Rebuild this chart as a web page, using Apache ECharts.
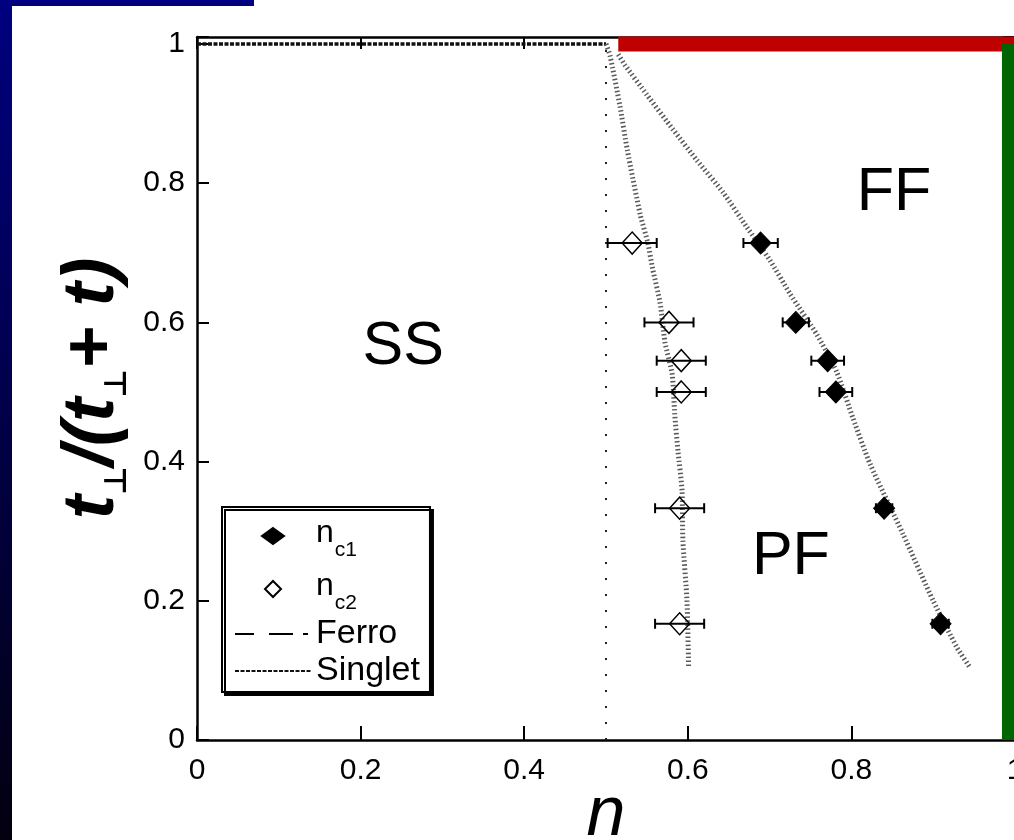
<!DOCTYPE html>
<html>
<head>
<meta charset="utf-8">
<script src="https://cdn.jsdelivr.net/npm/echarts@6/dist/echarts.min.js"></script>
<style>
  html, body { margin: 0; padding: 0; background: #fff; }
  #chart { width: 1014px; height: 840px; }
</style>
</head>
<body>
<div id="chart"></div>
<script>
// Hopping ratio t_perp/(t_perp + t) at which the critical densities were measured
const ratio = [0.714, 0.6, 0.545, 0.5, 0.333, 0.167];
// First critical density n_c1 (filled diamonds) with its horizontal error
const nc1 = [0.689, 0.732, 0.771, 0.781, 0.840, 0.909];
const nc1Err = [0.021, 0.016, 0.02, 0.02, 0.01, 0.01];
// Second critical density n_c2 (open diamonds) with its horizontal error
const nc2 = [0.532, 0.577, 0.592, 0.592, 0.590, 0.590];
const nc2Err = [0.03, 0.03, 0.03, 0.03, 0.03, 0.03];

// Phase boundary next to n_c2 (SS / PF)
const curveC2N = [0.500, 0.505, 0.517, 0.526, 0.542, 0.551, 0.557, 0.566, 0.572, 0.581, 0.584, 0.588, 0.593, 0.594, 0.599, 0.601];
const curveC2T = [1.000, 0.983, 0.911, 0.848, 0.754, 0.715, 0.677, 0.629, 0.572, 0.525, 0.468, 0.415, 0.358, 0.286, 0.200, 0.104];
// Phase boundary next to n_c1 (PF / FF)
const curveC1N = [0.515, 0.523, 0.550, 0.582, 0.611, 0.643, 0.672, 0.700, 0.725, 0.758, 0.782, 0.802, 0.823, 0.863, 0.900, 0.929, 0.945];
const curveC1T = [0.985, 0.970, 0.927, 0.877, 0.833, 0.787, 0.737, 0.690, 0.641, 0.582, 0.529, 0.462, 0.396, 0.296, 0.200, 0.133, 0.104];

// Singlet line along the top edge and the n = 1/2 boundary
const singletN = [0, 0.5];
const singletT = [1, 1];
const halfN = [0.5, 0.5];
const halfT = [0, 1];
// Ferro line along the top edge
const ferroN = [0.52, 1];
const ferroT = [1, 1];
// Highlight strokes: red along t_perp/(t_perp+t) = 1, green along n = 1
const redN = [0.515, 1];
const redT = [1, 1];
const greenN = [0.992, 0.992];
const greenT = [0, 1];

// Phase names and where they sit
const phaseNames = ['SS', 'FF', 'PF'];
const phaseN = [0.252, 0.852, 0.726];
const phaseT = [0.565, 0.785, 0.262];

// Legend entries
const legendText = {
  nc1: '{n|n}{s|c1}',
  nc2: '{n|n}{s|c2}',
  Ferro: 'Ferro',
  Singlet: 'Singlet'
};

const FONT = 'Liberation Sans, Arial, sans-serif';
const zip = (a, b) => a.map((v, i) => [v, b[i]]);

const chart = echarts.init(document.getElementById('chart'), null, { renderer: 'canvas' });

function errorBars(params, api) {
  const x = api.value(0), y = api.value(1), e = api.value(2);
  const p1 = api.coord([x - e, y]);
  const p2 = api.coord([x + e, y]);
  const cap = 5;
  const st = { stroke: '#000', lineWidth: 2 };
  return {
    type: 'group',
    children: [
      { type: 'line', shape: { x1: p1[0], y1: p1[1], x2: p2[0], y2: p2[1] }, style: st },
      { type: 'line', shape: { x1: p1[0], y1: p1[1] - cap, x2: p1[0], y2: p1[1] + cap }, style: st },
      { type: 'line', shape: { x1: p2[0], y1: p2[1] - cap, x2: p2[0], y2: p2[1] + cap }, style: st }
    ]
  };
}

const tickFmt = v => (Math.abs(v * 5 - Math.round(v * 5)) < 1e-6 ? String(+v.toFixed(1)) : '');
const noSymbol = { color: 'rgba(0,0,0,0)', borderWidth: 0 };
// Diamond legend icons (paths keep their aspect inside the icon box)
const wideDiamond = 'path://M11,0L22,8L11,16L0,8Z';
const squareDiamond = 'path://M8,0L16,8L8,16L0,8Z';

const option = {
  backgroundColor: '#fff',
  animation: false,
  graphic: [
    {
      type: 'rect', left: 0, top: 0, z: 100,
      shape: { width: 12, height: 840 },
      style: {
        fill: new echarts.graphic.LinearGradient(0, 0, 0, 1, [
          { offset: 0, color: '#000080' },
          { offset: 1, color: '#03000f' }
        ])
      }
    },
    {
      type: 'rect', left: 0, top: 0, z: 100,
      shape: { width: 254, height: 6 },
      style: { fill: '#000080' }
    }
  ],
  grid: { left: 197, top: 37, width: 818, height: 703, containLabel: false, outerBoundsMode: 'none' },
  legend: {
    orient: 'vertical',
    left: 222,
    top: 507,
    data: [
      { name: 'nc1', icon: wideDiamond },
      { name: 'nc2', icon: squareDiamond },
      { name: 'Ferro' },
      { name: 'Singlet' }
    ],
    itemWidth: 76,
    itemHeight: 16,
    itemGap: 3,
    padding: [4, 10, 4, 12],
    symbolKeepAspect: true,
    backgroundColor: '#fff',
    borderColor: '#000',
    borderWidth: 2,
    shadowColor: '#000',
    shadowOffsetX: 3,
    shadowOffsetY: 3,
    shadowBlur: 0,
    formatter: name => legendText[name],
    textStyle: {
      fontFamily: FONT,
      fontSize: 34,
      lineHeight: 32,
      color: '#000',
      rich: {
        n: { fontFamily: FONT, fontSize: 32, lineHeight: 32, color: '#000', verticalAlign: 'top', padding: [6, 0, 0, 0] },
        s: { fontFamily: FONT, fontSize: 21, lineHeight: 50, color: '#000', verticalAlign: 'top', padding: [29, 0, 0, 1] }
      }
    }
  },
  xAxis: [
    {
      type: 'value', min: 0, max: 1, interval: 0.2,
      name: 'n', nameLocation: 'middle', nameGap: 41, nameMoveOverlap: false,
      nameTextStyle: { fontFamily: FONT, fontSize: 70, fontStyle: 'italic', color: '#000' },
      axisLine: { show: true, onZero: false, lineStyle: { color: '#000', width: 2.5 } },
      axisTick: { show: true, inside: true, length: 14, lineStyle: { color: '#000', width: 2 } },
      axisLabel: { fontFamily: FONT, fontSize: 30, color: '#000', margin: 16, formatter: tickFmt },
      splitLine: { show: false }
    },
    {
      type: 'value', min: 0, max: 1, interval: 0.2, position: 'top',
      axisLine: { show: true, onZero: false, lineStyle: { color: '#000', width: 2.5 } },
      axisTick: { show: true, inside: true, length: 12, lineStyle: { color: '#000', width: 2 } },
      axisLabel: { show: false },
      splitLine: { show: false }
    }
  ],
  yAxis: [
    {
      type: 'value', min: 0, max: 1.01, interval: 0.2,
      name: '{t|t}{p|⊥}{t|/(}{t|t}{p|⊥}{t|+ t)}',
      nameLocation: 'middle', nameRotate: 90, nameGap: 64, nameMoveOverlap: false,
      nameTextStyle: {
        rich: {
          t: { fontFamily: FONT, fontSize: 73, fontStyle: 'italic', fontWeight: 'bold', color: '#000', verticalAlign: 'top' },
          p: { fontFamily: 'DejaVu Sans, sans-serif', fontSize: 31, fontWeight: 'bold', color: '#000', verticalAlign: 'top', padding: [46, 0, 0, 0] }
        }
      },
      axisLine: { show: true, onZero: false, lineStyle: { color: '#000', width: 2.5 } },
      axisTick: { show: true, inside: true, length: 12, lineStyle: { color: '#000', width: 2 } },
      axisLabel: { fontFamily: FONT, fontSize: 30, color: '#000', margin: 12, formatter: tickFmt },
      splitLine: { show: false }
    },
    {
      type: 'value', min: 0, max: 1.01, interval: 0.2, position: 'right',
      axisLine: { show: true, onZero: false, lineStyle: { color: '#000', width: 2.5 } },
      axisTick: { show: true, inside: true, length: 12, lineStyle: { color: '#000', width: 2 } },
      axisLabel: { show: false },
      splitLine: { show: false }
    }
  ],
  series: [
    {
      name: 'Singlet', type: 'line', data: zip(singletN, singletT), symbol: 'none', z: 3,
      itemStyle: noSymbol,
      lineStyle: { color: '#111', width: 3.5, type: [4, 1.5] }
    },
    {
      name: 'Singlet', type: 'line', data: zip(halfN, halfT), symbol: 'none', z: 3,
      itemStyle: noSymbol,
      lineStyle: { color: '#222', width: 2, type: [2, 14] }
    },
    {
      name: 'Ferro', type: 'line', data: zip(ferroN, ferroT), symbol: 'none', z: 3,
      itemStyle: noSymbol,
      lineStyle: { color: '#000', width: 3, type: [19, 15, 24, 10, 5, 200] }
    },
    {
      type: 'line', data: zip(curveC2N, curveC2T), symbol: 'none', z: 3, smooth: 0.2,
      lineStyle: { color: '#5a5a5a', width: 5, type: [1.5, 2.5] }
    },
    {
      type: 'line', data: zip(curveC1N, curveC1T), symbol: 'none', z: 3, smooth: 0.2,
      lineStyle: { color: '#5a5a5a', width: 5, type: [1.5, 2.5] }
    },
    {
      type: 'line', data: zip(redN, redT), symbol: 'none', z: 6,
      lineStyle: { color: '#c00000', width: 15, cap: 'butt' }
    },
    {
      type: 'line', data: zip(greenN, greenT), symbol: 'none', z: 6,
      lineStyle: { color: '#006400', width: 13, cap: 'butt' }
    },
    {
      type: 'custom', renderItem: errorBars, z: 4,
      data: nc1.map((n, i) => [n, ratio[i], nc1Err[i]]),
      encode: { x: 0, y: 1 }
    },
    {
      type: 'custom', renderItem: errorBars, z: 4,
      data: nc2.map((n, i) => [n, ratio[i], nc2Err[i]]),
      encode: { x: 0, y: 1 }
    },
    {
      name: 'nc1', type: 'scatter', data: zip(nc1, ratio), symbol: 'diamond', symbolSize: [21, 22], z: 5,
      itemStyle: { color: '#000', borderColor: '#000', borderWidth: 1, opacity: 1 }
    },
    {
      name: 'nc2', type: 'scatter', data: zip(nc2, ratio), symbol: 'diamond', symbolSize: [20, 22], z: 5,
      itemStyle: { color: 'rgba(255,255,255,0)', borderColor: '#000', borderWidth: 1.5, opacity: 1 }
    },
    {
      type: 'scatter', symbolSize: 0, z: 7, silent: true,
      itemStyle: { opacity: 1 },
      data: phaseNames.map((p, i) => ({ name: p, value: [phaseN[i], phaseT[i]] })),
      label: {
        show: true, position: 'inside', formatter: '{b}',
        fontFamily: FONT, fontSize: 61, color: '#000'
      }
    }
  ]
};

chart.setOption(option);
</script>
</body>
</html>
